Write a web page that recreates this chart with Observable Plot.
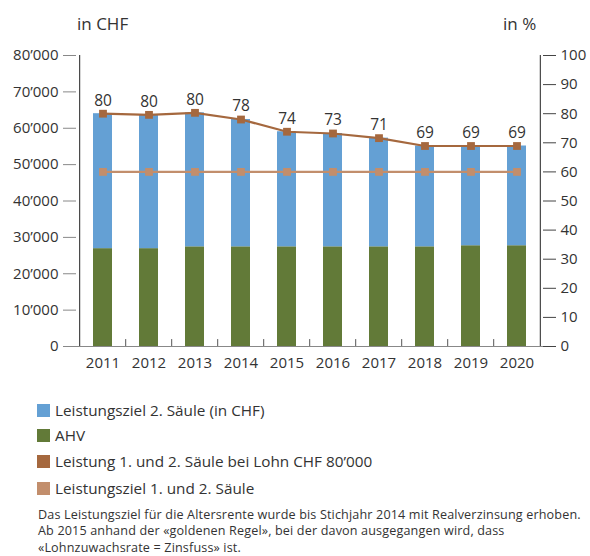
<!DOCTYPE html>
<html>
<head>
<meta charset="utf-8">
<script src="https://cdn.jsdelivr.net/npm/d3@7"></script>
<script src="https://cdn.jsdelivr.net/npm/@observablehq/plot@0.6"></script>
<style>
  body { margin: 0; background: #fff; font-family: "Open Sans", sans-serif; color: #333; }
  #wrap { position: relative; width: 590px; height: 556px; overflow: hidden; }
  .ttl { position: absolute; font-size: 17px; color: #333; line-height: 1; }
  .leg { position: absolute; left: 37px; font-size: 15.3px; color: #333; line-height: 1; display: flex; align-items: center; white-space: nowrap; }
  .sw { width: 13px; height: 13px; margin-right: 5px; display: inline-block; }
  #cap { position: absolute; left: 38px; top: 507px; font-size: 12.6px; line-height: 16.4px; letter-spacing: 0.15px; color: #333; white-space: nowrap; }
</style>
</head>
<body>
<div id="wrap"></div>
<script>
const years = [2011, 2012, 2013, 2014, 2015, 2016, 2017, 2018, 2019, 2020];
const ahv = [26900, 26900, 27400, 27400, 27400, 27400, 27400, 27400, 27700, 27700];
const ziel2 = [37100, 36780, 36840, 35000, 31640, 31160, 29880, 27720, 27420, 27420];
const leistungPct = [80, 79.6, 80.3, 78, 73.8, 73.2, 71.6, 68.9, 68.9, 68.9];
const leistungLabels = ["80", "80", "80", "78", "74", "73", "71", "69", "69", "69"];
const zielPct = [60, 60, 60, 60, 60, 60, 60, 60, 60, 60];
const leftTicks = [0, 10000, 20000, 30000, 40000, 50000, 60000, 70000, 80000];
const rightTicks = [0, 10, 20, 30, 40, 50, 60, 70, 80, 90, 100];
const seriesNames = ["Leistungsziel 2. Säule (in CHF)", "AHV", "Leistung 1. und 2. Säule bei Lohn CHF 80’000", "Leistungsziel 1. und 2. Säule"];
const colors = ["#64a0d4", "#627a38", "#a5683e", "#c28e6c"];
const caption = ["Das Leistungsziel für die Altersrente wurde bis Stichjahr 2014 mit Realverzinsung erhoben.",
  "Ab 2015 anhand der «goldenen Regel», bei der davon ausgegangen wird, dass",
  "«Lohnzuwachsrate = Zinsfuss» ist."];

// CHF per percentage point so that 0–100 % maps onto 0–80'000 CHF
const pctScale = 800;

const bars = [];
years.forEach((y, i) => {
  bars.push({year: y, series: "AHV", value: ahv[i]});
  bars.push({year: y, series: "Ziel2", value: ziel2[i]});
});
const lineRows = years.map((y, i) => ({year: y, lv: leistungPct[i] * pctScale, label: leistungLabels[i], zv: zielPct[i] * pctScale}));

const W = 590, H = 376, mL = 76, mR = 48, mT = 55, mB = 30;
const step = (W - mL - mR) / years.length;
const fmt = d3.formatLocale({thousands: "’", grouping: [3], decimal: ".", currency: ["", ""]}).format(",");

const chart = Plot.plot({
  width: W, height: H,
  marginLeft: mL, marginRight: mR, marginTop: mT, marginBottom: mB,
  style: {fontFamily: "Open Sans, sans-serif", background: "#fff"},
  x: {type: "band", domain: years, paddingInner: 0.59, paddingOuter: 0.295, label: null},
  y: {domain: [0, 80000], label: null},
  color: {domain: ["AHV", "Ziel2"], range: [colors[1], colors[0]]},
  marks: [
    Plot.barY(bars, {x: "year", y: "value", fill: "series", order: ["AHV", "Ziel2"]}),
    Plot.ruleY([0], {stroke: "#888", insetLeft: -13, insetRight: -14}),
    Plot.ruleX([years[0]], {dx: -step / 2, y1: 0, y2: 80000, stroke: "#222"}),
    Plot.ruleX([years[years.length - 1]], {dx: step / 2, y1: 0, y2: 100 * pctScale, stroke: "#222"}),
    Plot.ruleX(years.slice(1), {dx: -step / 2, y1: 0, y2: 1900, stroke: "#555"}),
    Plot.axisY(leftTicks, {anchor: "left", label: null, tickSize: 13, tickPadding: 5, stroke: "#888", fill: "#333", fontSize: 15, tickFormat: fmt}),
    Plot.axisY(rightTicks.map(d => d * pctScale), {anchor: "right", label: null, tickSize: 13, tickPadding: 5, stroke: "#444", fill: "#333", fontSize: 15, tickFormat: d => String(d / pctScale)}),
    Plot.axisX({label: null, tickSize: 0, tickPadding: 11, fontSize: 15, fill: "#333", tickFormat: d => String(d)}),
    Plot.lineY(lineRows, {x: "year", y: "zv", stroke: colors[3], strokeWidth: 2.2}),
    Plot.dot(lineRows, {x: "year", y: "zv", symbol: "square", r: 4.4, fill: colors[3]}),
    Plot.lineY(lineRows, {x: "year", y: "lv", stroke: colors[2], strokeWidth: 2.2}),
    Plot.dot(lineRows, {x: "year", y: "lv", symbol: "square", r: 4.4, fill: colors[2]}),
    Plot.text(lineRows, {x: "year", y: "lv", text: "label", dy: -13, fontSize: 15.5, fill: "#333"})
  ]
});

const wrap = document.getElementById("wrap");
chart.style.position = "absolute";
chart.style.left = "0px";
chart.style.top = "0px";
wrap.appendChild(chart);

function addDiv(cls, html, style) {
  const d = document.createElement("div");
  d.className = cls;
  d.innerHTML = html;
  Object.assign(d.style, style);
  wrap.appendChild(d);
  return d;
}
addDiv("ttl", "in CHF", {left: "77px", top: "15px"});
addDiv("ttl", "in %", {left: "503px", top: "15px"});

const legTops = [403, 428, 454, 481];
seriesNames.forEach((n, i) => {
  addDiv("leg", `<span class="sw" style="background:${colors[i]}"></span>${n}`, {top: legTops[i] + "px"});
});
addDiv("", caption.join("<br>"), {}).id = "cap";
</script>
</body>
</html>
